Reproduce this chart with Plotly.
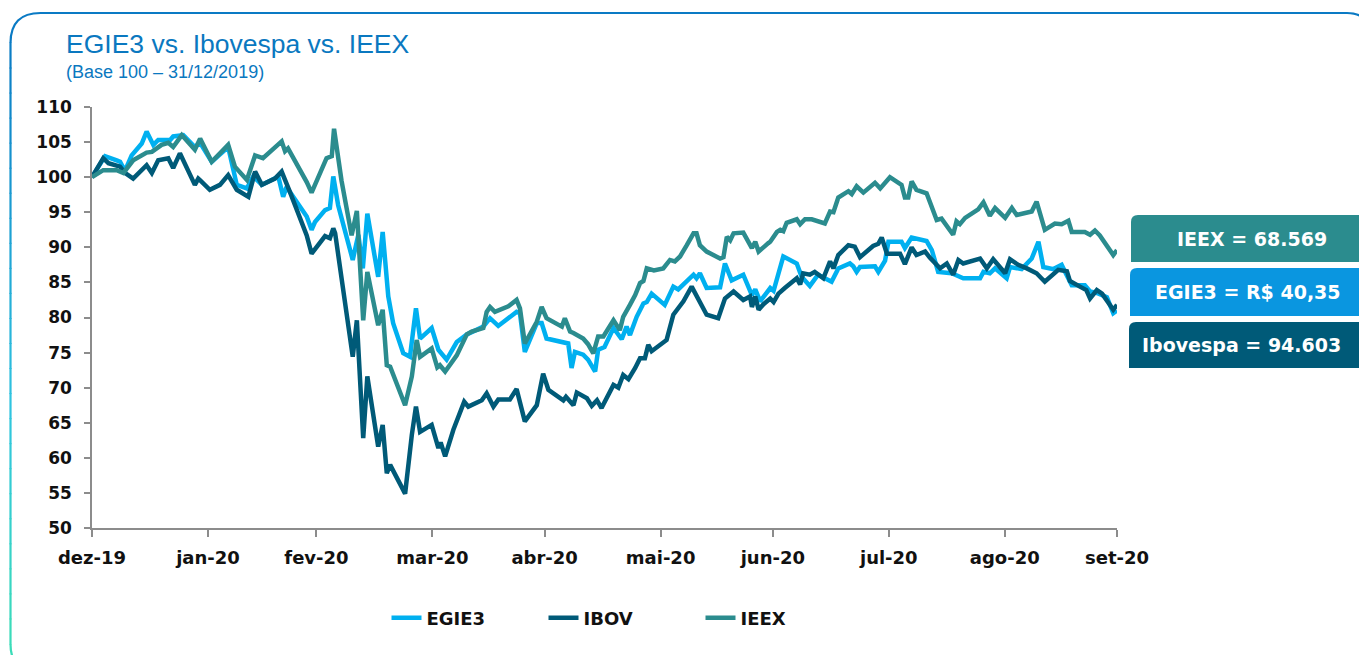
import pandas as pd
import plotly.graph_objects as go

BASE_DATE = pd.Timestamp("2019-12-31")

# ---- data (days since 31/12/2019, index base 100) ----
egie3_days = [0, 3.5, 6.6, 7.5, 8.8, 10.6, 13.3, 14.6, 16.4, 17.7, 20.9, 21.7, 24.4, 27.5, 28.9, 32.0,
              36.4, 38.2, 38.7, 41.4, 43.1, 45.4, 49.8, 51.1, 52.0, 57.4, 58.7, 59.6, 62.3, 63.6, 64.5,
              65.8, 68.1, 69.7, 71.2, 72.4, 73.6, 76.5, 77.7, 79.2, 80.5, 83.2, 85.0, 86.6, 87.7, 90.8,
              92.6, 94.8, 97.5, 100.2, 104.6, 106.4, 108.6, 113.5, 114.4, 115.7, 118.9, 120.2, 121.5,
              126.0, 127.3, 128.2, 129.1, 131.3, 132.6, 134.5, 135.3, 137.0, 139.4, 141.6, 142.9, 143.8,
              145.6, 147.4, 148.3, 149.6, 153.1, 155.4, 156.7, 160.8, 161.6, 162.5, 164.3, 167.9, 169.2,
              171.0, 174.1, 176.4, 177.3, 178.6, 181.3, 182.2, 184.8, 188.4, 189.7, 191.9, 194.1, 195.9,
              197.7, 199.5, 202.6, 203.5, 204.4, 205.3, 209.3, 210.2, 212.0, 212.9, 216.4, 217.3, 219.1,
              223.1, 224.5, 226.2, 229.8, 232.9, 237.4, 238.3, 240.0, 241.4, 244.5, 245.4, 248.5, 251.2,
              253.0, 254.3, 257.0, 259.2, 261.9, 265.4, 266.8, 268.6, 271.3, 273.0, 274.0]
egie3_vals = [100.0, 103.0, 102.4, 102.2, 100.9, 103.1, 104.8, 106.5, 104.6, 105.3, 105.3, 105.8, 106.0,
              104.3, 104.9, 102.2, 104.3, 99.8, 98.9, 98.4, 100.1, 98.9, 100.1, 97.2, 98.6, 94.4, 92.5,
              93.6, 95.3, 95.6, 100.1, 96.0, 91.5, 88.2, 91.8, 87.0, 94.8, 85.8, 92.2, 83.0, 79.2, 74.9,
              74.4, 81.3, 77.0, 78.5, 75.4, 74.0, 76.5, 77.6, 78.7, 79.9, 78.8, 80.8, 80.6, 75.1, 79.2,
              79.2, 77.0, 76.5, 76.3, 72.8, 75.1, 74.7, 74.0, 72.3, 75.4, 75.8, 78.5, 76.9, 78.7, 77.5,
              80.1, 82.0, 82.2, 83.4, 81.8, 84.4, 84.0, 86.1, 85.6, 86.3, 84.2, 84.3, 87.7, 85.3, 86.1,
              83.2, 84.0, 82.3, 84.2, 83.8, 88.7, 87.7, 85.8, 84.5, 86.1, 85.6, 85.1, 87.0, 87.7, 87.3,
              86.5, 87.2, 87.3, 86.5, 88.1, 90.8, 90.8, 89.9, 91.4, 90.9, 89.6, 86.5, 86.3, 85.6, 85.6,
              86.5, 86.3, 87.0, 85.6, 87.2, 86.9, 88.4, 90.8, 87.2, 86.9, 87.5, 84.6, 84.6, 83.7, 83.5,
              82.9, 80.6, 81.0]

ibov_days = [0, 3.0, 4.4, 7.5, 8.8, 11.0, 14.6, 16.0, 17.7, 20.4, 21.7, 23.5, 27.5, 28.4, 29.0, 31.5,
             34.2, 36.4, 38.7, 41.8, 43.6, 45.4, 48.9, 50.7, 52.9, 57.4, 58.7, 62.3, 63.6, 64.5, 65.0,
             67.2, 69.7, 70.8, 72.5, 73.6, 76.5, 77.7, 78.8, 79.7, 83.7, 85.5, 86.6, 87.7, 90.8, 92.6,
             93.2, 94.4, 96.6, 99.5, 100.6, 104.2, 105.5, 107.3, 108.6, 111.7, 113.5, 115.7, 118.9,
             120.6, 122.0, 126.0, 126.7, 128.7, 129.6, 132.3, 133.6, 135.0, 136.2, 139.4, 140.7, 142.0,
             143.4, 145.2, 146.5, 147.8, 148.7, 149.6, 153.6, 155.4, 158.1, 160.3, 162.1, 163.0, 164.3,
             167.4, 169.2, 171.5, 174.1, 175.9, 176.4, 177.3, 178.2, 179.5, 181.3, 182.2, 183.5, 185.2,
             187.0, 188.4, 189.3, 190.1, 191.9, 193.2, 195.5, 197.3, 198.2, 199.5, 202.2, 203.9, 205.3,
             208.8, 210.2, 211.1, 212.5, 216.0, 217.3, 219.1, 220.4, 222.7, 224.0, 226.7, 228.5, 230.2,
             231.6, 232.9, 237.4, 239.2, 240.9, 244.1, 245.4, 247.6, 249.9, 252.5, 254.7, 258.3, 260.6,
             261.4, 264.1, 265.8, 266.8, 268.6, 270.0, 273.0, 274.0]
ibov_vals = [100.0, 102.7, 102.0, 101.5, 100.6, 99.8, 101.7, 100.6, 102.4, 102.7, 101.3, 103.4, 98.9,
             99.8, 99.5, 98.2, 98.9, 100.3, 98.2, 97.2, 100.8, 98.9, 99.8, 100.8, 97.9, 91.7, 89.1, 91.6,
             91.3, 92.7, 92.0, 83.4, 74.4, 79.6, 62.8, 71.6, 61.6, 64.7, 57.8, 59.0, 54.9, 63.3, 67.3,
             63.7, 64.7, 61.4, 62.2, 60.2, 64.0, 68.0, 67.3, 68.2, 69.2, 67.3, 68.3, 68.3, 69.8, 65.2,
             67.5, 72.0, 69.7, 68.2, 68.7, 67.5, 69.3, 68.5, 67.4, 68.2, 67.1, 70.4, 70.0, 71.8, 71.2,
             72.8, 74.2, 74.2, 76.1, 75.2, 76.8, 80.4, 82.3, 84.4, 82.5, 81.5, 80.4, 79.9, 82.7, 83.7,
             82.5, 83.0, 81.5, 83.0, 81.1, 81.9, 82.7, 82.2, 83.4, 84.2, 84.9, 85.6, 84.7, 86.3, 86.1,
             86.5, 85.6, 88.0, 87.0, 88.9, 90.3, 90.1, 88.6, 90.2, 90.5, 91.4, 89.1, 89.1, 87.6, 90.0,
             88.9, 89.4, 88.5, 87.0, 87.7, 86.1, 88.2, 87.7, 88.4, 87.0, 88.3, 86.3, 88.3, 87.5, 87.0,
             86.3, 85.1, 86.8, 86.6, 85.2, 84.4, 83.9, 82.7, 83.9, 83.4, 81.1, 81.8]

ieex_days = [0, 3.0, 6.6, 8.4, 11.0, 14.6, 16.0, 18.6, 20.4, 21.7, 24.0, 27.5, 28.9, 32.0, 36.4, 38.2,
             41.4, 43.6, 45.7, 50.7, 51.6, 52.4, 57.4, 58.7, 62.7, 64.1, 64.7, 66.7, 69.4, 70.8, 72.5,
             73.6, 76.5, 77.7, 78.8, 79.7, 83.7, 85.5, 86.8, 87.7, 90.8, 92.3, 93.0, 94.4, 97.5, 100.2,
             101.5, 104.6, 105.5, 106.4, 107.7, 111.3, 113.5, 114.4, 115.7, 118.9, 120.2, 121.5, 125.6,
             126.4, 127.8, 128.7, 131.3, 132.6, 134.0, 135.3, 136.7, 139.4, 141.1, 142.0, 143.8, 145.2,
             146.5, 147.4, 148.3, 150.2, 152.7, 154.5, 155.8, 157.2, 159.0, 160.8, 161.6, 162.5, 164.3,
             167.9, 168.8, 169.7, 170.6, 171.5, 174.1, 176.4, 177.3, 178.2, 180.8, 181.3, 183.1, 184.0,
             184.8, 185.7, 188.4, 189.3, 190.6, 192.4, 195.9, 197.3, 198.2, 199.5, 202.2, 203.1, 204.4,
             206.2, 209.3, 210.7, 213.3, 216.4, 217.3, 218.2, 219.1, 220.4, 223.1, 225.8, 227.1, 230.2,
             231.1, 232.0, 233.4, 236.9, 238.3, 240.0, 241.4, 244.1, 245.9, 247.2, 251.2, 252.5, 254.7,
             257.4, 259.2, 261.0, 261.9, 265.4, 266.8, 268.1, 269.4, 273.0, 274.0]
ieex_vals = [100.0, 101.0, 101.0, 100.6, 102.4, 103.5, 103.6, 104.6, 104.9, 104.3, 106.0, 103.9, 105.5,
             102.2, 104.6, 101.5, 99.6, 103.1, 102.7, 105.1, 103.7, 104.1, 99.3, 97.8, 102.7, 103.0,
             106.9, 99.5, 91.7, 95.2, 79.6, 86.5, 78.9, 81.1, 73.2, 73.0, 67.5, 71.6, 76.8, 74.4, 75.6,
             72.9, 73.2, 72.3, 74.6, 77.6, 78.0, 78.5, 80.8, 81.5, 80.8, 81.6, 82.5, 81.3, 76.3, 79.4,
             81.5, 79.9, 78.7, 79.9, 78.0, 77.8, 77.0, 76.2, 74.9, 77.3, 77.3, 79.6, 78.2, 80.1, 81.8,
             83.2, 84.9, 85.2, 87.0, 86.7, 87.0, 88.2, 88.0, 88.7, 90.3, 92.0, 92.0, 90.3, 89.4, 88.4,
             88.6, 91.5, 91.0, 92.0, 92.1, 89.9, 90.8, 89.4, 90.6, 90.8, 92.2, 92.5, 92.3, 93.5, 94.0,
             93.3, 94.0, 94.0, 93.4, 95.1, 95.0, 97.1, 98.0, 97.6, 98.7, 97.8, 99.2, 98.4, 100.0, 98.9,
             97.1, 97.1, 99.4, 98.2, 97.7, 93.9, 94.1, 91.8, 93.7, 93.3, 94.2, 95.4, 96.4, 94.5, 95.6,
             94.2, 95.6, 94.6, 95.1, 96.5, 92.5, 93.4, 93.3, 93.8, 92.2, 92.2, 91.8, 92.4, 91.7, 88.9, 89.6]

tick_dates = ["2019-12-31", "2020-01-31", "2020-02-29", "2020-03-31", "2020-04-30",
              "2020-05-31", "2020-06-30", "2020-07-31", "2020-08-31", "2020-09-30"]
tick_labels = ["dez-19", "jan-20", "fev-20", "mar-20", "abr-20",
               "mai-20", "jun-20", "jul-20", "ago-20", "set-20"]
y_ticks = [50, 55, 60, 65, 70, 75, 80, 85, 90, 95, 100, 105, 110]

box_labels = ["IEEX = 68.569", "EGIE3 = R$ 40,35", "Ibovespa = 94.603"]

title_text = "EGIE3 vs. Ibovespa vs. IEEX"
subtitle_text = "(Base 100 \u2013 31/12/2019)"

# ---- styling ----
C_EGIE3 = "#00B0F0"
C_IBOV = "#005A78"
C_IEEX = "#2B8C8E"
C_BOX = ["#2B8C8E", "#0A96E0", "#005A78"]

W, H = 1359, 655
L, R, T, B = 92, 1117, 107, 528
BOLD_FONT = "DejaVu Sans, Verdana, sans-serif"


def px(xp):
    return (xp - L) / (R - L)


def py(yp):
    return (B - yp) / (B - T)


def to_dates(days):
    return BASE_DATE + pd.to_timedelta(days, unit="D")


fig = go.Figure()
for name, d, v, c in [("EGIE3", egie3_days, egie3_vals, C_EGIE3),
                      ("IBOV", ibov_days, ibov_vals, C_IBOV),
                      ("IEEX", ieex_days, ieex_vals, C_IEEX)]:
    fig.add_trace(go.Scatter(x=to_dates(d), y=v, mode="lines", name=name,
                             line=dict(color=c, width=4.5), hoverinfo="skip"))

AX_FONT = dict(family=BOLD_FONT, size=18, color="#111111", weight="bold")

fig.update_xaxes(range=[BASE_DATE, pd.Timestamp("2020-09-30")], tickvals=pd.to_datetime(tick_dates),
                 ticktext=tick_labels, showgrid=False, zeroline=False, showline=True,
                 linecolor="#8c8c8c", linewidth=1.5, ticks="outside", ticklen=7, tickwidth=1.5,
                 tickcolor="#8c8c8c", tickfont=AX_FONT, ticklabelstandoff=6)
fig.update_yaxes(range=[50, 110], tickvals=y_ticks, showgrid=False, zeroline=False, showline=True,
                 linecolor="#8c8c8c", linewidth=1.5, ticks="outside", ticklen=6, tickwidth=1.5,
                 tickcolor="#8c8c8c", tickfont=dict(AX_FONT, size=17), ticklabelstandoff=9)

shapes = []
# frame: top edge + corners in blue
BORDER_L, BORDER_T, BORDER_R, BORDER_B = 10.5, 13, 1369, 672
r = 30
top_path = (f"M {px(BORDER_L)},{py(BORDER_T + r)} Q {px(BORDER_L)},{py(BORDER_T)} {px(BORDER_L + r)},{py(BORDER_T)} "
            f"L {px(BORDER_R - 22)},{py(BORDER_T)} Q {px(BORDER_R)},{py(BORDER_T)} {px(BORDER_R)},{py(BORDER_T + 22)}")
shapes.append(dict(type="path", xref="paper", yref="paper", path=top_path,
                   line=dict(color="#0A7AC4", width=2.2), layer="above"))


def lerp(c1, c2, t):
    a = [int(c1[i:i + 2], 16) for i in (1, 3, 5)]
    b = [int(c2[i:i + 2], 16) for i in (1, 3, 5)]
    return "#" + "".join(f"{round(a[k] + (b[k] - a[k]) * t):02x}" for k in range(3))


# left edge with gradient
y0e, y1e = BORDER_T + r, BORDER_B - 28
nseg = 24
for i in range(nseg):
    ya = y0e + (y1e - y0e) * i / nseg
    yb = y0e + (y1e - y0e) * (i + 1) / nseg
    t = (i + 0.5) / nseg
    col = lerp("#0A7AC4", "#2FC4E0", t / 0.6) if t < 0.6 else lerp("#2FC4E0", "#3BDCB8", (t - 0.6) / 0.4)
    shapes.append(dict(type="line", xref="paper", yref="paper", x0=px(BORDER_L), x1=px(BORDER_L),
                       y0=py(ya - 0.5), y1=py(yb + 0.5), line=dict(color=col, width=2.2)))
bot_path = (f"M {px(BORDER_L)},{py(y1e)} Q {px(BORDER_L)},{py(BORDER_B)} {px(BORDER_L + 28)},{py(BORDER_B)}")
shapes.append(dict(type="path", xref="paper", yref="paper", path=bot_path,
                   line=dict(color="#3BDCB8", width=2.2)))

# value boxes on the right
box_geo = [(1131, 215, 262, 1252), (1130, 268, 316, 1248), (1129, 322, 368, 1241)]
annotations = []
rr = 7
for (x0, y0, y1, xc), col, lab in zip(box_geo, C_BOX, box_labels):
    x1 = 1362
    p = (f"M {px(x0)},{py(y1)} L {px(x0)},{py(y0 + rr)} Q {px(x0)},{py(y0)} {px(x0 + rr)},{py(y0)} "
         f"L {px(x1)},{py(y0)} L {px(x1)},{py(y1)} Z")
    shapes.append(dict(type="path", xref="paper", yref="paper", path=p, fillcolor=col,
                       line=dict(width=0), layer="above"))
    annotations.append(dict(xref="paper", yref="paper", x=px(xc), y=py((y0 + y1) / 2),
                            text=lab, showarrow=False, xanchor="center", yanchor="middle",
                            font=dict(family=BOLD_FONT, size=19, color="white", weight="bold")))

annotations.append(dict(xref="paper", yref="paper", x=px(64), y=py(44), text=title_text,
                        showarrow=False, xanchor="left", yanchor="middle",
                        font=dict(family="Liberation Sans, Arial, sans-serif", size=26.5, color="#0A78C0")))
annotations.append(dict(xref="paper", yref="paper", x=px(64), y=py(72), text=subtitle_text,
                        showarrow=False, xanchor="left", yanchor="middle",
                        font=dict(family="Liberation Sans, Arial, sans-serif", size=18, color="#0A78C0")))

fig.update_layout(
    width=W, height=H, autosize=False,
    margin=dict(l=L, r=W - R, t=T, b=H - B, pad=0),
    paper_bgcolor="white", plot_bgcolor="white",
    showlegend=True,
    legend=dict(orientation="h", x=px(622), y=py(618), xanchor="center", yanchor="middle",
                font=dict(family=BOLD_FONT, size=18, color="#111111", weight="bold"),
                entrywidth=112, entrywidthmode="pixels", itemwidth=30, bgcolor="rgba(0,0,0,0)"),
    shapes=shapes, annotations=annotations,
)

fig.write_html("out.html", config={"displayModeBar": False},
               post_script="document.body.style.margin='0';document.body.style.overflow='hidden';")
